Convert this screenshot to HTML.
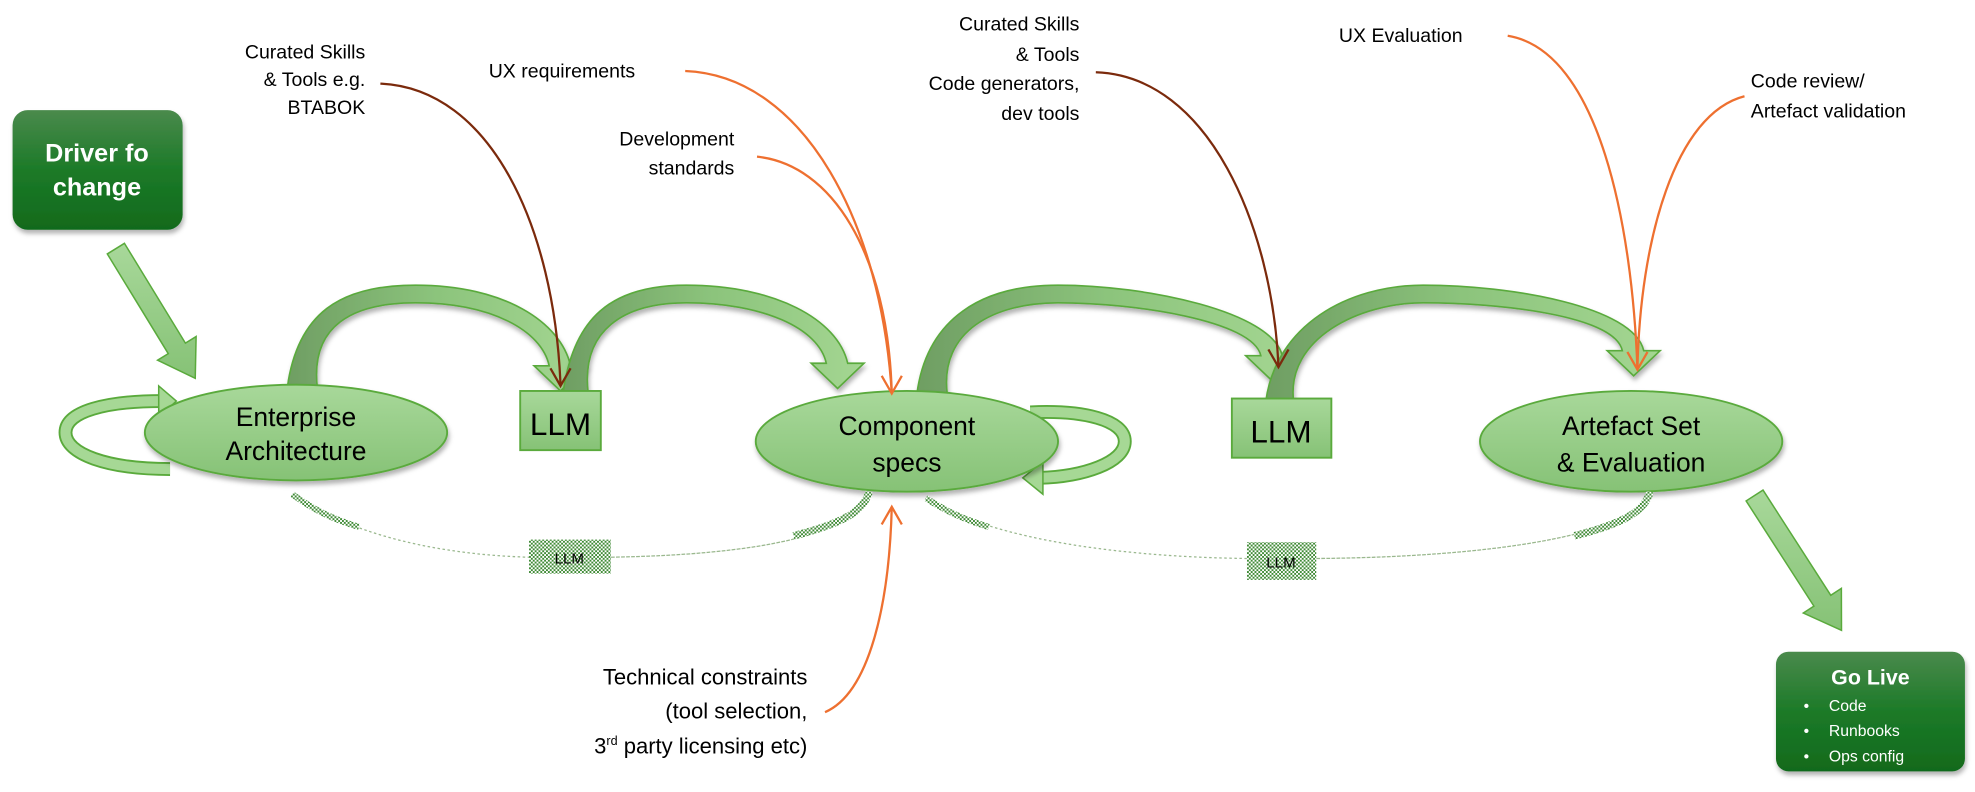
<!DOCTYPE html>
<html><head><meta charset="utf-8"><style>
html,body{margin:0;padding:0;background:#fff;}
svg{display:block}
text{font-family:"Liberation Sans",sans-serif;}
</style></head><body>
<svg id="s" width="1975" height="792" viewBox="0 0 1568 628" xmlns="http://www.w3.org/2000/svg">
<defs>
<linearGradient id="gv" x1="0" y1="0" x2="0" y2="1"><stop offset="0" stop-color="#a8d89a"/><stop offset="1" stop-color="#86c276"/></linearGradient>
<linearGradient id="gd" x1="0" y1="0" x2="0" y2="1"><stop offset="0" stop-color="#4a8a4c"/><stop offset="0.5" stop-color="#1c7a28"/><stop offset="1" stop-color="#116a1c"/></linearGradient>
<linearGradient id="ga" x1="0" y1="0" x2="1" y2="0"><stop offset="0" stop-color="#6f9e63"/><stop offset="0.5" stop-color="#8cc47c"/><stop offset="1" stop-color="#a4d692"/></linearGradient>
<pattern id="hp" width="3" height="3" patternUnits="userSpaceOnUse"><rect width="3" height="3" fill="#fff"/><rect width="1.5" height="1.5" fill="#3f8a35"/><rect x="1.5" y="1.5" width="1.5" height="1.5" fill="#3f8a35"/></pattern>
<filter id="sh" x="-20%" y="-20%" width="140%" height="150%"><feDropShadow dx="1" dy="3" stdDeviation="2" flood-color="#000" flood-opacity="0.3"/></filter>
</defs>

<!-- Driver box -->
<rect x="10" y="87" width="135" height="95" rx="12" fill="url(#gd)" filter="url(#sh)"/>
<text x="77" y="128" font-size="20" font-weight="bold" fill="#fff" text-anchor="middle">Driver fo</text>
<text x="77" y="155" font-size="20" font-weight="bold" fill="#fff" text-anchor="middle">change</text>

<!-- driver arrow -->
<polygon points="98.8,192.8 147.2,272 155.7,266.8 155,300 125.1,285.6 133.6,280.4 85.2,201.2" fill="url(#gv)" stroke="#5aaa3c" stroke-width="1.2"/>
<!-- go live arrow -->
<polygon points="1399.7,388.7 1453.5,472.2 1461.9,466.7 1462,500 1431.7,486.3 1440.1,480.8 1386.3,397.3" fill="url(#gv)" stroke="#5aaa3c" stroke-width="1.2"/>

<g id="arcs"></g>

<!-- self loops -->
<path d="M135,372 C85,372 52,360 52,343 C52,326 85,318 128,318" fill="none" stroke="#5aaa3c" stroke-width="11"/>
<path d="M135,372 C85,372 52,360 52,343 C52,326 85,318 128,318" fill="none" stroke="#a6d895" stroke-width="8"/>
<polygon points="126,306 140,318 126,331" fill="#a6d895" stroke="#5aaa3c" stroke-width="1.2"/>

<path d="M818,327 C860,325 893,333 893,350 C893,367 860,378 825,379" fill="none" stroke="#5aaa3c" stroke-width="11"/>
<path d="M818,327 C860,325 893,333 893,350 C893,367 860,378 825,379" fill="none" stroke="#a6d895" stroke-width="8"/>
<polygon points="828,366 812,379 828,392" fill="#a6d895" stroke="#5aaa3c" stroke-width="1.2"/>

<!-- ellipses -->
<ellipse cx="235" cy="343" rx="120" ry="38" fill="url(#gv)" stroke="#5aaa3c" stroke-width="1.5" filter="url(#sh)"/>
<text x="235" y="338" font-size="21" text-anchor="middle">Enterprise</text>
<text x="235" y="365" font-size="21" text-anchor="middle">Architecture</text>

<ellipse cx="720" cy="350" rx="120" ry="40" fill="url(#gv)" stroke="#5aaa3c" stroke-width="1.5" filter="url(#sh)"/>
<text x="720" y="345" font-size="21" text-anchor="middle">Component</text>
<text x="720" y="374" font-size="21" text-anchor="middle">specs</text>

<ellipse cx="1295" cy="350" rx="120" ry="40" fill="url(#gv)" stroke="#5aaa3c" stroke-width="1.5" filter="url(#sh)"/>
<text x="1295" y="345" font-size="21" text-anchor="middle">Artefact Set</text>
<text x="1295" y="374" font-size="21" text-anchor="middle">&amp; Evaluation</text>

<!-- LLM boxes -->
<rect x="413" y="310" width="64" height="47" fill="url(#gv)" stroke="#5aaa3c" stroke-width="1.5"/>
<text x="445" y="345" font-size="25" text-anchor="middle">LLM</text>
<rect x="978" y="316" width="79" height="47" fill="url(#gv)" stroke="#5aaa3c" stroke-width="1.5"/>
<text x="1017" y="351" font-size="25" text-anchor="middle">LLM</text>

<!-- dotted LLM arcs -->
<path d="M232,392 C280,425 350,440 420,442" fill="none" stroke="#9ab88e" stroke-width="1" stroke-dasharray="2,2"/>
<path d="M232,392 C250,405 265,412 285,418" fill="none" stroke="url(#hp)" stroke-width="5"/>
<path d="M485,442 C600,440 680,425 690,390" fill="none" stroke="#9ab88e" stroke-width="1" stroke-dasharray="3,1"/>
<path d="M630,425 C670,415 686,405 690,390" fill="none" stroke="url(#hp)" stroke-width="6"/>
<rect x="420" y="428" width="65" height="27" fill="url(#hp)"/>
<text x="452" y="447" font-size="12" text-anchor="middle">LLM</text>

<path d="M735,395 C790,430 900,442 990,443" fill="none" stroke="#9ab88e" stroke-width="1" stroke-dasharray="2,2"/>
<path d="M735,395 C750,405 765,412 785,418" fill="none" stroke="url(#hp)" stroke-width="5"/>
<path d="M1045,443 C1180,442 1300,425 1310,390" fill="none" stroke="#9ab88e" stroke-width="1" stroke-dasharray="3,1"/>
<path d="M1250,425 C1290,415 1306,405 1310,390" fill="none" stroke="url(#hp)" stroke-width="6"/>
<rect x="990" y="430" width="55" height="30" fill="url(#hp)"/>
<text x="1017" y="450" font-size="12" text-anchor="middle">LLM</text>

<!-- labels -->
<g font-size="15.5" text-anchor="end">
<text x="290" y="46">Curated Skills</text>
<text x="290" y="68">&amp; Tools e.g.</text>
<text x="290" y="90">BTABOK</text>
<text x="583" y="115">Development</text>
<text x="583" y="138">standards</text>
<text x="857" y="24">Curated Skills</text>
<text x="857" y="48">&amp; Tools</text>
<text x="857" y="71">Code generators,</text>
<text x="857" y="95">dev tools</text>
<text x="641" y="543" font-size="17.5">Technical constraints</text>
<text x="641" y="570" font-size="17.5">(tool selection,</text>
<text x="641" y="598" font-size="17.5">3<tspan font-size="10" dy="-7">rd</tspan><tspan dy="7"> party licensing etc)</tspan></text>
</g>
<g font-size="15.5">
<text x="388" y="61">UX requirements</text>
<text x="1063" y="33">UX Evaluation</text>
<text x="1390" y="69">Code review/</text>
<text x="1390" y="93">Artefact validation</text>
</g>

<!-- thin connectors -->
<g fill="none" stroke-width="1.8">
<path d="M302,66 C390,70 440,180 445,305" stroke="#7b2a0c"/>
<path d="M437,292 L445,306 L453,292" stroke="#7b2a0c"/>
<path d="M870,57 C960,60 1010,180 1015,290" stroke="#7b2a0c"/>
<path d="M1007,277 L1015,291 L1023,277" stroke="#7b2a0c"/>
<path d="M544,56 C640,60 700,180 708,312" stroke="#ee7030"/>
<path d="M601,124 C660,130 705,200 708,312" stroke="#ee7030"/>
<path d="M700,298 L708,312 L716,298" stroke="#ee7030"/>
<path d="M655,565 C690,550 706,480 708,402" stroke="#ee7030"/>
<path d="M700,416 L708,402 L716,416" stroke="#ee7030"/>
<path d="M1197,28 C1270,40 1296,180 1300,293" stroke="#ee7030"/>
<path d="M1385,76 C1330,90 1302,190 1300,293" stroke="#ee7030"/>
<path d="M1292,279 L1300,293 L1308,279" stroke="#ee7030"/>
</g>

<!-- Go Live -->
<rect x="1410" y="517" width="150" height="95" rx="10" fill="url(#gd)" filter="url(#sh)"/>
<text x="1485" y="543" font-size="17" font-weight="bold" fill="#fff" text-anchor="middle">Go Live</text>
<g font-size="12.5" fill="#fff">
<text x="1432" y="564">•</text><text x="1452" y="564">Code</text>
<text x="1432" y="584">•</text><text x="1452" y="584">Runbooks</text>
<text x="1432" y="604">•</text><text x="1452" y="604">Ops config</text>
</g>
</svg>
<script>
function arc(xL,xR,y0,xm,xt,yt){
  var pO=226,pI=240;
  return "M"+xL+","+y0+" C"+(xL+8)+","+(y0-60)+" "+(xm-60)+","+pO+" "+xm+","+pO+
  " C"+(xm+70)+","+pO+" "+(xt)+","+(yt-55)+" "+(xt+8)+","+(yt-20)+
  " L"+(xt+21)+","+(yt-20)+" L"+xt+","+yt+" L"+(xt-21)+","+(yt-20)+" L"+(xt-9)+","+(yt-20)+
  " C"+(xt-15)+","+(yt-48)+" "+(xm+60)+","+pI+" "+xm+","+pI+
  " C"+(xm-50)+","+pI+" "+(xR-6)+","+(y0-50)+" "+xR+","+y0+" Z";
}
var a=[[228,252,308,330,445,310],[447,467,312,545,665,308],[728,752,312,840,1010,302],[1005,1027,318,1130,1297,298]];
var g=document.getElementById("arcs"),h="";
a.forEach(function(p){h+='<path d="'+arc.apply(null,p)+'" fill="url(#ga)" stroke="#5aaa3c" stroke-width="1.3" filter="url(#sh)"/>';});
g.innerHTML=h;
</script>
</body></html>
